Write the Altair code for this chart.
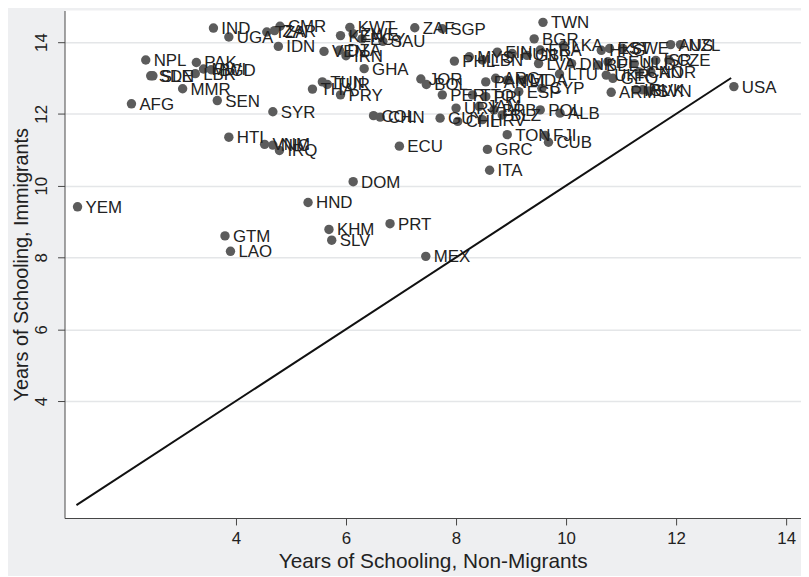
import altair as alt
import pandas as pd

codes = ["YEM", "AFG", "NPL", "SDN", "SLE", "PAK", "MWI", "BGD", "LBR", "MMR",
         "SEN", "IND", "UGA", "TZA", "ZAR", "CMR", "IDN", "SYR", "HTI", "VNM",
         "NIC", "IRQ", "GTM", "LAO", "HND", "KHM", "SLV", "DOM", "PRT", "MEX",
         "ECU", "COL", "CHN", "KWT", "KEN", "ZWE", "EGY", "SAU", "ZAF", "SGP",
         "VEN", "DZA", "IRN", "GHA", "TUN", "TUR", "THA", "PRY", "JOR", "BOL",
         "GUY", "PER", "URY", "CHL", "GRC", "ITA", "TTO", "PRI", "JAM", "BRB",
         "BLZ", "HRV", "TON", "FJI", "CUB", "POL", "ALB", "PAN", "ARG", "MLT",
         "MDA", "ESP", "CYP", "LTU", "PHL", "MYS", "LBN", "FIN", "HUN", "GBR",
         "FRA", "LVA", "BGR", "TWN", "LKA", "HKG", "DNK", "BEL", "DEU", "UKR",
         "GEO", "SWE", "EST", "NLD", "ISR", "CZE", "NOR", "CAN", "AUS", "NZL",
         "ARM", "IRL", "SVK", "SVN", "USA"]

non_migrants = [1.12, 2.10, 2.36, 2.45, 2.49, 3.28, 3.41, 3.55, 3.26, 3.03,
                3.66, 3.59, 3.87, 4.56, 4.70, 4.80, 4.77, 4.67, 3.87, 4.52,
                4.67, 4.79, 3.80, 3.90, 5.31, 5.69, 5.74, 6.13, 6.80, 7.45,
                6.97, 6.50, 6.62, 6.07, 5.90, 6.13, 6.29, 6.67, 7.25, 7.75,
                5.60, 5.88, 6.00, 6.33, 5.57, 5.66, 5.39, 5.90, 7.36, 7.46,
                7.71, 7.75, 8.00, 8.03, 8.57, 8.61, 8.30, 8.54, 8.42, 8.69,
                8.84, 8.48, 8.93, 9.62, 9.68, 9.53, 9.89, 8.54, 8.72, 8.93,
                9.20, 9.14, 9.56, 9.88, 7.97, 8.24, 8.48, 8.75, 9.02, 9.29,
                9.53, 9.50, 9.42, 9.58, 9.95, 10.64, 10.10, 10.58, 10.76, 10.73,
                10.85, 11.03, 10.79, 11.24, 11.63, 11.87, 11.54, 11.33, 11.90, 12.08,
                10.82, 11.27, 11.39, 11.51, 13.05]

immigrants = [9.41, 12.28, 13.50, 13.06, 13.06, 13.43, 13.25, 13.23, 13.12, 12.70,
              12.37, 14.39, 14.14, 14.28, 14.32, 14.44, 13.88, 12.06, 11.35, 11.15,
              11.13, 10.98, 8.60, 8.17, 9.53, 8.78, 8.48, 10.11, 8.94, 8.03,
              11.10, 11.95, 11.91, 14.41, 14.18, 14.23, 14.09, 14.02, 14.40, 14.37,
              13.74, 13.77, 13.62, 13.26, 12.89, 12.82, 12.69, 12.53, 12.97, 12.82,
              11.88, 12.53, 12.16, 11.79, 11.01, 10.43, 12.53, 12.48, 12.21, 12.11,
              11.97, 11.84, 11.42, 11.40, 11.21, 12.11, 12.02, 12.89, 12.99, 12.94,
              12.94, 12.62, 12.71, 13.11, 13.47, 13.59, 13.50, 13.72, 13.68, 13.63,
              13.78, 13.40, 14.09, 14.55, 13.91, 13.77, 13.40, 13.36, 13.45, 13.08,
              12.99, 13.82, 13.82, 13.40, 13.49, 13.50, 13.17, 13.17, 13.93, 13.93,
              12.60, 12.67, 12.67, 12.64, 12.76]

line_x = [1.1, 13.0]
line_y = [1.1, 13.0]
x_ticks = [4, 6, 8, 10, 12, 14]
y_ticks = [4, 6, 8, 10, 12, 14]

df = pd.DataFrame({"code": codes, "x": non_migrants, "y": immigrants})
line_df = pd.DataFrame({"x": line_x, "y": line_y})

FONT = "Liberation Sans"
xs = alt.Scale(domain=[0.883, 14.27], nice=False, zero=False)
ys = alt.Scale(domain=[0.74, 14.88], nice=False, zero=False)

x_axis = alt.Axis(values=x_ticks, format="d", grid=False,
                  title="Years of Schooling, Non-Migrants",
                  labelFont=FONT, labelFontSize=17, labelColor="#222222",
                  titleFont=FONT, titleFontSize=21, titleFontWeight="normal",
                  titleColor="#222222", tickSize=7, tickColor="#444444",
                  domainColor="#444444", labelPadding=6, titlePadding=4)
y_axis = alt.Axis(values=y_ticks, format="d", grid=True, gridColor="#e4e6e8", gridWidth=1.5,
                  title="Years of Schooling, Immigrants",
                  labelFont=FONT, labelFontSize=17, labelColor="#222222",
                  labelAngle=270, labelAlign="center", labelBaseline="bottom",
                  titleFont=FONT, titleFontSize=20, titleFontWeight="normal",
                  titleColor="#222222", tickSize=7, tickColor="#444444",
                  domainColor="#444444", labelPadding=7, titlePadding=1)

points = alt.Chart(df).mark_circle(size=90, color="#5c5c5c", opacity=1).encode(
    x=alt.X("x:Q", scale=xs, axis=x_axis),
    y=alt.Y("y:Q", scale=ys, axis=y_axis),
)

labels = alt.Chart(df).mark_text(align="left", baseline="middle", dx=8, dy=1,
                                 font=FONT, fontSize=17, color="#222222").encode(
    x=alt.X("x:Q", scale=xs),
    y=alt.Y("y:Q", scale=ys),
    text="code:N",
)

diag = alt.Chart(line_df).mark_line(color="#111111", strokeWidth=2).encode(
    x=alt.X("x:Q", scale=xs),
    y=alt.Y("y:Q", scale=ys),
)

chart = alt.layer(points, labels, diag).properties(
    width=743, height=512,
    autosize=alt.AutoSizeParams(type="none"),
    padding={"left": 57, "top": 0, "right": 0, "bottom": 56},
    background="#eeeff1",
).configure_view(stroke=None, fill="white")

chart.save("out.html", embed_options={"renderer": "svg", "actions": False})
